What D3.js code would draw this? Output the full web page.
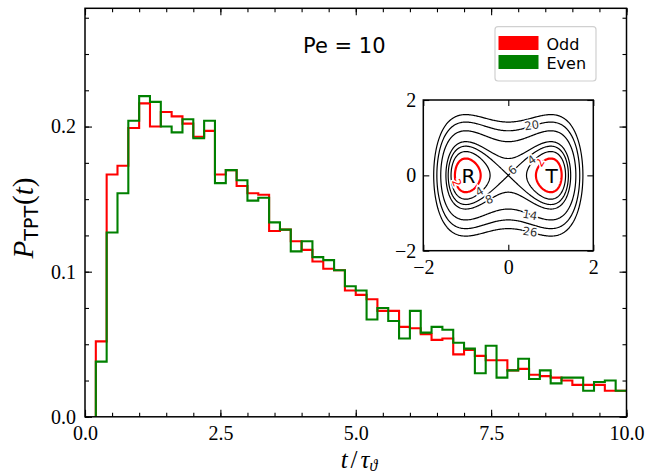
<!DOCTYPE html>
<html>
<head>
<meta charset="utf-8">
<script src="https://cdn.jsdelivr.net/npm/d3@7"></script>
<style>
  body { margin: 0; background: #fff; }
</style>
</head>
<body>
<div id="chart"></div>
<script>
// bin edges of the histograms (t / tau)
const binEdges = [0.2, 0.4, 0.6, 0.8, 1.0, 1.2, 1.4, 1.6, 1.8, 2.0,
    2.2, 2.4, 2.6, 2.8, 3.0, 3.2, 3.4, 3.6, 3.8, 4.0,
    4.2, 4.4, 4.6, 4.8, 5.0, 5.2, 5.4, 5.6, 5.8, 6.0,
    6.2, 6.4, 6.6, 6.8, 7.0, 7.2, 7.4, 7.6, 7.8, 8.0,
    8.2, 8.4, 8.6, 8.8, 9.0, 9.2, 9.4, 9.6, 9.8, 10.0];

const oddValues = [0.052, 0.167, 0.173, 0.199, 0.216, 0.200, 0.210, 0.207, 0.202, 0.193,
    0.197, 0.167, 0.170, 0.159, 0.154, 0.153, 0.128, 0.129, 0.121, 0.115,
    0.107, 0.102, 0.101, 0.087, 0.084, 0.081, 0.073, 0.073, 0.062, 0.061,
    0.057, 0.053, 0.054, 0.043, 0.046, 0.042, 0.039, 0.039, 0.032, 0.033,
    0.029, 0.028, 0.027, 0.025, 0.022, 0.022, 0.022, 0.018, 0.018];

const evenValues = [0.038, 0.127, 0.154, 0.204, 0.221, 0.217, 0.200, 0.196, 0.205, 0.192,
    0.204, 0.161, 0.170, 0.163, 0.149, 0.151, 0.134, 0.129, 0.114, 0.121,
    0.110, 0.108, 0.101, 0.090, 0.087, 0.067, 0.075, 0.066, 0.054, 0.073,
    0.058, 0.062, 0.060, 0.051, 0.047, 0.030, 0.049, 0.027, 0.032, 0.040,
    0.026, 0.032, 0.023, 0.027, 0.027, 0.018, 0.024, 0.025, 0.018];

const seriesNames = ["Odd", "Even"];
const seriesColors = ["#ff0000", "#008000"];

const xMajorTicks = [0, 2.5, 5, 7.5, 10];
const xTickLabels = ["0.0", "2.5", "5.0", "7.5", "10.0"];
const yMajorTicks = [0, 0.1, 0.2];
const yTickLabels = ["0.0", "0.1", "0.2"];

// inset: potential landscape V(x,y) = a (x^2-1)^2 + b y^2
const potA = 6, potB = 10;
const contourLevels = [2, 4, 6, 8, 14, 20, 26];
const insetTicks = [-2, 0, 2];
const insetTickLabels = ["\u22122", "0", "2"];
// contour label positions [x, y, rotation, text]
const contourLabels = [
    [-1.21, -0.20, 70, "2"], [0.74, 0.34, -60, "2"],
    [-0.68, -0.43, -30, "4"], [0.55, 0.41, -35, "4"],
    [0.10, 0.14, -40, "6"], [-0.45, -0.64, -22, "8"],
    [0.51, -1.05, 10, "14"], [0.55, 1.33, -8, "20"], [0.51, -1.50, 8, "26"]];

const W = 646, H = 474;
const plot = {left: 85, right: 626.5, top: 8.3, bottom: 416.8};
const serif = "Liberation Serif",
    sans = "DejaVu Sans";

const svg = d3.select("#chart").append("svg")
    .attr("width", W)
    .attr("height", H)
    .attr("font-family", serif);

const x = d3.scaleLinear().domain([0, 10]).range([plot.left, plot.right]);
const y = d3.scaleLinear().domain([0, 0.2815]).range([plot.bottom, plot.top]);

svg.append("clipPath").attr("id", "plotClip")
    .append("rect")
    .attr("x", plot.left).attr("y", plot.top)
    .attr("width", plot.right - plot.left).attr("height", plot.bottom - plot.top);

// histograms as steps
function stepPoints(vals) {
    let pts = [{t: binEdges[0], v: 0}];
    vals.forEach((v, i) => pts.push({t: binEdges[i], v: v}));
    pts.push({t: binEdges[binEdges.length - 1], v: vals[vals.length - 1]});
    return pts;
}

let line = d3.line()
    .x(d => x(d.t))
    .y(d => y(d.v))
    .curve(d3.curveStepAfter);

[oddValues, evenValues].forEach((vals, i) => {
    svg.append("path")
        .datum(stepPoints(vals))
        .attr("clip-path", "url(#plotClip)")
        .attr("fill", "none")
        .attr("stroke", seriesColors[i])
        .attr("stroke-width", 2.1)
        .attr("d", line);
});

// axes, ticks pointing inward
function styleAxis(g) {
    g.select(".domain").remove();
    g.selectAll(".tick line").attr("stroke", "#000").attr("stroke-width", 1.1);
    g.selectAll(".tick text").attr("font-size", 20).attr("font-family", serif).attr("fill", "#000");
}

let xMinor = d3.range(0, 10.01, 0.5),
    yMinor = d3.range(0, 0.28, 0.025);

svg.append("g").attr("transform", "translate(0," + plot.bottom + ")")
    .call(d3.axisBottom(x).tickValues(xMinor).tickSize(-4).tickFormat(""))
    .call(styleAxis);
svg.append("g").attr("transform", "translate(0," + plot.bottom + ")")
    .call(d3.axisBottom(x).tickValues(xMajorTicks).tickSize(-7).tickPadding(9)
        .tickFormat((d, i) => xTickLabels[i]))
    .call(styleAxis);
svg.append("g").attr("transform", "translate(0," + plot.top + ")")
    .call(d3.axisTop(x).tickValues(xMinor).tickSize(-4).tickFormat(""))
    .call(styleAxis);
svg.append("g").attr("transform", "translate(0," + plot.top + ")")
    .call(d3.axisTop(x).tickValues(xMajorTicks).tickSize(-7).tickFormat(""))
    .call(styleAxis);

svg.append("g").attr("transform", "translate(" + plot.left + ",0)")
    .call(d3.axisLeft(y).tickValues(yMinor).tickSize(-4).tickFormat(""))
    .call(styleAxis);
svg.append("g").attr("transform", "translate(" + plot.left + ",0)")
    .call(d3.axisLeft(y).tickValues(yMajorTicks).tickSize(-7).tickPadding(9)
        .tickFormat((d, i) => yTickLabels[i]))
    .call(styleAxis);
svg.append("g").attr("transform", "translate(" + plot.right + ",0)")
    .call(d3.axisRight(y).tickValues(yMinor).tickSize(-4).tickFormat(""))
    .call(styleAxis);
svg.append("g").attr("transform", "translate(" + plot.right + ",0)")
    .call(d3.axisRight(y).tickValues(yMajorTicks).tickSize(-7).tickFormat(""))
    .call(styleAxis);

svg.append("rect")
    .attr("x", plot.left).attr("y", plot.top)
    .attr("width", plot.right - plot.left).attr("height", plot.bottom - plot.top)
    .attr("fill", "none").attr("stroke", "#000").attr("stroke-width", 1.5);

// axis labels
let yl = svg.append("text")
    .attr("transform", "translate(33,218) rotate(-90)")
    .attr("text-anchor", "middle")
    .attr("font-size", 29);
yl.append("tspan").attr("font-style", "italic").text("P");
yl.append("tspan").attr("font-family", sans).attr("font-size", 19).attr("dy", 5).text("TPT");
yl.append("tspan").attr("dy", -5).attr("dx", 1).text("(");
yl.append("tspan").attr("font-style", "italic").text("t");
yl.append("tspan").text(")");

let xl = svg.append("text")
    .attr("x", 359).attr("y", 467.5)
    .attr("text-anchor", "middle")
    .attr("font-size", 25);
xl.append("tspan").attr("font-style", "italic").text("t");
xl.append("tspan").attr("dx", 3).text("/");
xl.append("tspan").attr("font-style", "italic").attr("dx", 3).text("\u03c4");
xl.append("tspan").attr("font-style", "italic").attr("font-size", 16).attr("dy", 3).text("\u03d1");

// Pe annotation
svg.append("text")
    .attr("x", 303).attr("y", 53)
    .attr("font-family", sans).attr("font-size", 21)
    .text("Pe = 10");

// legend
let legend = svg.append("g");
legend.append("rect")
    .attr("x", 495).attr("y", 26.7).attr("width", 101).attr("height", 54.3)
    .attr("rx", 3).attr("fill", "#fff").attr("stroke", "#d0d0d0").attr("stroke-width", 1.2);
seriesNames.forEach((name, i) => {
    legend.append("rect")
        .attr("x", 498.5).attr("y", 36 + i * 19).attr("width", 40).attr("height", 14)
        .attr("fill", seriesColors[i]);
    legend.append("text")
        .attr("x", 546.5).attr("y", 49.5 + i * 19)
        .attr("font-family", sans).attr("font-size", 16)
        .text(name);
});

// inset with contour lines of the potential
const inset = {left: 423.3, right: 593.3, top: 100, bottom: 250.7};
const ix = d3.scaleLinear().domain([-2, 2]).range([inset.left, inset.right]);
const iy = d3.scaleLinear().domain([-2, 2]).range([inset.bottom, inset.top]);

svg.append("rect")
    .attr("x", inset.left).attr("y", inset.top)
    .attr("width", inset.right - inset.left).attr("height", inset.bottom - inset.top)
    .attr("fill", "#fff");

const nx = 200, ny = 200;
let field = new Float64Array(nx * ny);
for (let j = 0; j < ny; j++) {
    for (let i = 0; i < nx; i++) {
        let px = -2 + 4 * i / (nx - 1),
            py = 2 - 4 * j / (ny - 1);
        field[j * nx + i] = potA * (px * px - 1) * (px * px - 1) + potB * py * py;
    }
}

// keep only the rings that do not run along the grid border
function innerRings(c) {
    let rings = [];
    c.coordinates.forEach(poly => poly.forEach(ring => {
        let onEdge = ring.some(p => p[0] <= 0.01 || p[1] <= 0.01 || p[0] >= nx - 0.01 || p[1] >= ny - 0.01);
        if (!onEdge) rings.push(ring);
    }));
    return {type: "MultiLineString", coordinates: rings, value: c.value};
}

let contours = d3.contours().size([nx, ny]).thresholds(contourLevels)(field).map(innerRings);

let gridPath = d3.geoPath(d3.geoTransform({
    point: function (gx, gy) {
        this.stream.point(ix(-2 + 4 * (gx - 0.5) / (nx - 1)), iy(2 - 4 * (gy - 0.5) / (ny - 1)));
    }
}));

svg.append("g")
    .selectAll("path")
    .data(contours)
    .enter().append("path")
    .attr("d", gridPath)
    .attr("fill", "none")
    .attr("stroke", d => d.value === 2 ? "#ff0000" : "#000")
    .attr("stroke-width", d => d.value === 2 ? 2.2 : 1.2);

svg.append("g")
    .selectAll("text")
    .data(contourLabels)
    .enter().append("text")
    .attr("transform", d => "translate(" + ix(d[0]) + "," + iy(d[1]) + ") rotate(" + d[2] + ")")
    .attr("text-anchor", "middle")
    .attr("dy", "0.35em")
    .attr("font-family", sans)
    .attr("font-size", 11.5)
    .attr("fill", d => d[3] === "2" ? "#ff0000" : "#333")
    .attr("stroke", "#fff").attr("stroke-width", 3).attr("paint-order", "stroke")
    .text(d => d[3]);

svg.append("text").attr("x", ix(-0.94)).attr("y", iy(0)).attr("dy", "0.36em")
    .attr("text-anchor", "middle").attr("font-family", sans).attr("font-size", 20).text("R");
svg.append("text").attr("x", ix(1.02)).attr("y", iy(0)).attr("dy", "0.36em")
    .attr("text-anchor", "middle").attr("font-family", sans).attr("font-size", 20).text("T");

svg.append("g").attr("transform", "translate(0," + inset.bottom + ")")
    .call(d3.axisBottom(ix).tickValues(insetTicks).tickSize(-6).tickPadding(9)
        .tickFormat((d, i) => insetTickLabels[i]))
    .call(styleAxis);
svg.append("g").attr("transform", "translate(" + inset.left + ",0)")
    .call(d3.axisLeft(iy).tickValues(insetTicks).tickSize(-6).tickPadding(7)
        .tickFormat((d, i) => insetTickLabels[i]))
    .call(styleAxis);
svg.append("g").attr("transform", "translate(0," + inset.top + ")")
    .call(d3.axisTop(ix).tickValues(insetTicks).tickSize(-6).tickFormat(""))
    .call(styleAxis);
svg.append("g").attr("transform", "translate(" + inset.right + ",0)")
    .call(d3.axisRight(iy).tickValues(insetTicks).tickSize(-6).tickFormat(""))
    .call(styleAxis);

svg.append("rect")
    .attr("x", inset.left).attr("y", inset.top)
    .attr("width", inset.right - inset.left).attr("height", inset.bottom - inset.top)
    .attr("fill", "none").attr("stroke", "#000").attr("stroke-width", 1.5);
</script>
</body>
</html>
